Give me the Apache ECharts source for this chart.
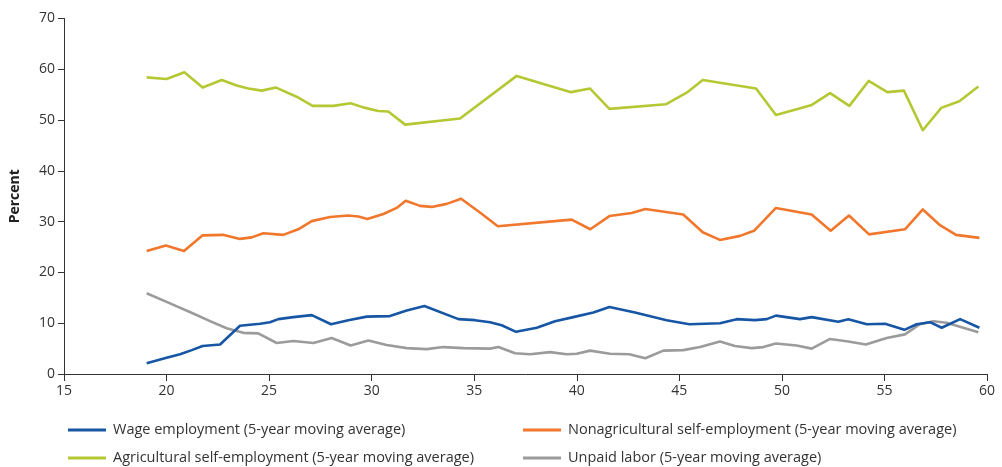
<!DOCTYPE html>
<html>
<head>
<meta charset="utf-8">
<script src="https://cdn.jsdelivr.net/npm/echarts@6/dist/echarts.min.js"></script>
<style>
html,body{margin:0;padding:0;background:#fff;}
#chart{width:1002px;height:467px;}
</style>
</head>
<body>
<div id="chart"></div>
<script>
const xTicks = [15, 20, 25, 30, 35, 40, 45, 50, 55, 60];
const yTicks = [0, 10, 20, 30, 40, 50, 60, 70];

const seriesNames = [
  'Wage employment (5-year moving average)',
  'Nonagricultural self-employment (5-year moving average)',
  'Agricultural self-employment (5-year moving average)',
  'Unpaid labor (5-year moving average)'
];

const wageAge = [19.03,20.0,20.66,21.23,21.76,22.61,23.58,24.56,25.04,25.45,26.18,27.08,28.02,28.86,29.76,30.89,31.71,32.57,34.23,35.04,35.77,36.34,37.04,38.05,38.94,39.83,40.81,41.59,42.84,44.38,45.49,46.98,47.8,48.69,49.26,49.71,50.88,51.45,52.75,53.24,54.14,55.03,55.97,56.57,57.22,57.79,58.69,59.63];
const wageVal = [2.1,3.2,3.9,4.7,5.5,5.8,9.5,9.9,10.2,10.8,11.2,11.6,9.8,10.6,11.3,11.4,12.5,13.4,10.8,10.6,10.2,9.6,8.3,9.1,10.4,11.2,12.1,13.2,12.1,10.6,9.8,10.0,10.8,10.6,10.8,11.5,10.8,11.2,10.3,10.8,9.8,9.9,8.7,9.8,10.2,9.1,10.8,9.1];

const nonAgAge = [19.03,19.97,20.85,21.76,22.74,23.58,24.15,24.72,25.69,26.42,27.08,27.97,28.86,29.35,29.79,30.57,31.22,31.66,32.36,32.93,33.66,34.36,35.28,36.15,39.75,40.66,41.59,42.68,43.34,45.19,46.14,46.98,47.96,48.64,49.71,51.45,52.38,53.27,54.25,56.0,56.87,57.71,58.49,59.63];
const nonAgVal = [24.2,25.3,24.2,27.3,27.4,26.6,26.9,27.7,27.4,28.5,30.1,30.9,31.2,31.0,30.5,31.5,32.7,34.1,33.1,32.9,33.5,34.5,31.8,29.1,30.4,28.5,31.1,31.7,32.5,31.4,27.9,26.4,27.2,28.2,32.7,31.4,28.2,31.2,27.5,28.5,32.4,29.3,27.4,26.8];

const agAge = [19.03,20.0,20.87,21.76,22.69,23.42,23.99,24.64,25.34,26.34,27.12,28.13,28.98,29.59,30.32,30.81,31.63,34.31,37.07,39.72,40.65,41.59,44.34,45.36,46.14,48.74,49.71,51.42,52.35,53.29,54.23,55.14,55.95,56.87,57.77,58.65,59.58];
const agVal = [58.4,58.1,59.4,56.4,57.9,56.8,56.2,55.8,56.4,54.6,52.8,52.8,53.3,52.5,51.8,51.7,49.1,50.3,58.7,55.5,56.2,52.2,53.1,55.4,57.9,56.2,51.0,52.9,55.3,52.8,57.7,55.5,55.8,48.0,52.4,53.7,56.6];

const unpaidAge = [19.03,20.0,21.3,22.12,22.93,23.74,24.47,25.37,26.18,27.16,28.05,28.98,29.84,30.73,31.71,32.68,33.49,34.47,35.77,36.18,36.99,37.72,38.7,39.51,40.0,40.65,41.62,42.56,43.34,44.22,45.19,46.01,46.98,47.71,48.53,49.09,49.71,50.72,51.45,52.35,53.24,54.09,55.11,56.0,56.73,57.38,58.03,59.58];
const unpaidVal = [15.9,14.2,11.9,10.4,9.0,8.1,8.0,6.1,6.5,6.1,7.1,5.6,6.6,5.7,5.1,4.9,5.3,5.1,5.0,5.3,4.1,3.9,4.3,3.9,4.0,4.6,4.0,3.9,3.1,4.6,4.7,5.3,6.4,5.5,5.1,5.3,6.0,5.6,5.0,6.9,6.4,5.8,7.1,7.8,9.8,10.4,10.1,8.2];

const colors = ['#1656a5', '#f0772b', '#b5c833', '#9b9b9c'];

function pairs(xs, ys) { return xs.map((x, i) => [x, ys[i]]); }

const dataSets = [
  pairs(wageAge, wageVal),
  pairs(nonAgAge, nonAgVal),
  pairs(agAge, agVal),
  pairs(unpaidAge, unpaidVal)
];

const FONT = '"Open Sans", "Noto Sans", sans-serif';
const legendPos = [
  {left: 68, top: 422.5},
  {left: 523, top: 422.5},
  {left: 68, top: 450.5},
  {left: 523, top: 450.5}
];

const chart = echarts.init(document.getElementById('chart'), null, {renderer: 'canvas'});
chart.setOption({
  animation: false,
  backgroundColor: '#ffffff',
  grid: {left: 64, right: 15, top: 18.5, bottom: 93, containLabel: false},
  legend: seriesNames.map((n, i) => ({
    data: [n],
    left: legendPos[i].left,
    top: legendPos[i].top,
    icon: 'rect',
    itemWidth: 38,
    itemHeight: 3,
    itemGap: 0,
    padding: 0,
    textStyle: {fontFamily: FONT, fontSize: 14.5, color: '#333', padding: [0, 0, 0, 2]}
  })),
  xAxis: {
    type: 'value',
    min: 15, max: 60, interval: 5,
    axisLine: {show: true, onZero: false, lineStyle: {color: '#333', width: 1}},
    axisTick: {show: true, length: 7, lineStyle: {color: '#333'}},
    splitLine: {show: false},
    axisLabel: {fontFamily: FONT, fontSize: 14, color: '#333', margin: 10,
      formatter: v => xTicks.includes(v) ? String(v) : ''}
  },
  yAxis: {
    type: 'value',
    min: 0, max: 70, interval: 10,
    name: 'Percent',
    nameLocation: 'middle',
    nameGap: 42,
    nameRotate: 90,
    nameTextStyle: {fontFamily: FONT, fontSize: 14, fontWeight: 'bold', color: '#222'},
    axisLine: {show: true, lineStyle: {color: '#333', width: 1}},
    axisTick: {show: true, length: 6, lineStyle: {color: '#333'}},
    splitLine: {show: false},
    axisLabel: {fontFamily: FONT, fontSize: 14, color: '#333', margin: 9,
      formatter: v => yTicks.includes(v) ? String(v) : ''}
  },
  series: seriesNames.map((n, i) => ({
    name: n,
    type: 'line',
    data: dataSets[i],
    symbol: 'none',
    color: colors[i],
    lineStyle: {color: colors[i], width: 2.6, join: 'round'},
    z: i === 0 ? 5 : 3
  }))
});
</script>
</body>
</html>
